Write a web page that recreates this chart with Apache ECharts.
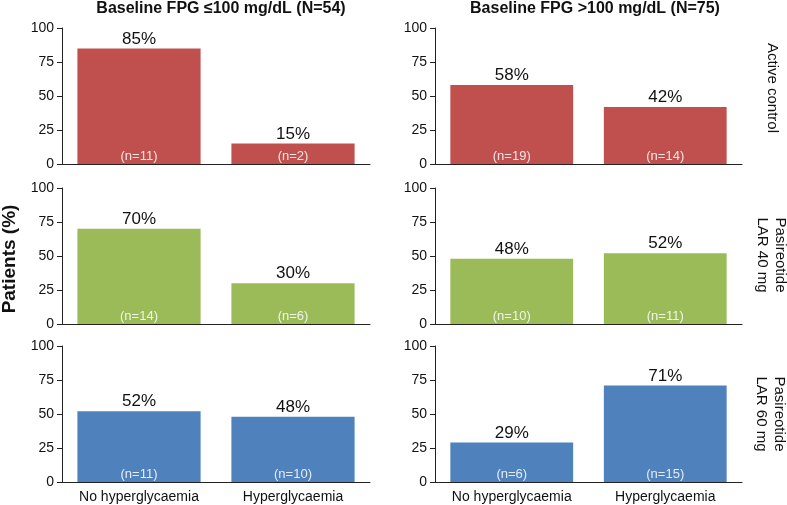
<!DOCTYPE html>
<html>
<head>
<meta charset="utf-8">
<script src="https://cdn.jsdelivr.net/npm/echarts@6/dist/echarts.min.js"></script>
<style>html,body{margin:0;padding:0;background:#fff}#c{width:787px;height:505px}</style>
</head>
<body>
<div id="c"></div>
<script>
var categories = ['No hyperglycaemia', 'Hyperglycaemia'];
var columnTitles = ['Baseline FPG \u2264100 mg/dL (N=54)', 'Baseline FPG >100 mg/dL (N=75)'];
var rowLabels = ['Active control', 'Pasireotide\nLAR 40 mg', 'Pasireotide\nLAR 60 mg'];

var activeLow = [85, 15];
var activeHigh = [58, 42];
var lar40Low = [70, 30];
var lar40High = [48, 52];
var lar60Low = [52, 48];
var lar60High = [29, 71];

var nActiveLow = [11, 2];
var nActiveHigh = [19, 14];
var nLar40Low = [14, 6];
var nLar40High = [10, 11];
var nLar60Low = [11, 10];
var nLar60High = [6, 15];

var rowColors = ['#C0504D', '#9BBB59', '#4F81BD'];

var panels = [
  {row: 0, col: 0, v: activeLow, n: nActiveLow},
  {row: 0, col: 1, v: activeHigh, n: nActiveHigh},
  {row: 1, col: 0, v: lar40Low, n: nLar40Low},
  {row: 1, col: 1, v: lar40High, n: nLar40High},
  {row: 2, col: 0, v: lar60Low, n: nLar60Low},
  {row: 2, col: 1, v: lar60High, n: nLar60High}
];

var FONT = '"Liberation Sans", Arial, sans-serif';
var gridTops = [28, 188, 346];
var gridLefts = [62, 435];
var gridWidths = [308, 307];
var gridH = 136;

var grids = [], xAxes = [], yAxes = [], series = [];
panels.forEach(function (p, i) {
  grids.push({left: gridLefts[p.col], top: gridTops[p.row], width: gridWidths[p.col], height: gridH});
  xAxes.push({
    type: 'category', gridIndex: i, data: categories,
    axisLine: {lineStyle: {color: '#222', width: 1}},
    axisTick: {show: false},
    axisLabel: {show: p.row === 2, interval: 0, color: '#111', fontSize: 14, fontFamily: FONT, margin: 8}
  });
  yAxes.push({
    type: 'value', gridIndex: i, min: 0, max: 100, interval: 25,
    axisLine: {show: true, lineStyle: {color: '#222', width: 1}},
    axisTick: {show: true, length: 5, lineStyle: {color: '#222'}},
    splitLine: {show: false},
    axisLabel: {color: '#111', fontSize: 14, fontFamily: FONT, margin: 8}
  });
  series.push({
    type: 'bar', xAxisIndex: i, yAxisIndex: i, data: p.v,
    barCategoryGap: '20%', barGap: '-100%',
    itemStyle: {color: rowColors[p.row]},
    label: {show: true, position: 'top', distance: 1, formatter: '{c}%', color: '#111', fontSize: 17, fontFamily: FONT},
    silent: true
  });
  series.push({
    type: 'bar', xAxisIndex: i, yAxisIndex: i, data: p.v,
    barCategoryGap: '20%', barGap: '-100%',
    itemStyle: {color: 'rgba(0,0,0,0)'},
    label: {show: true, position: 'insideBottom', distance: 1,
      formatter: (function (arr) { return function (d) { return '(n=' + arr[d.dataIndex] + ')'; }; })(p.n),
      color: 'rgba(255,255,255,0.85)', fontSize: 13, fontFamily: FONT},
    silent: true
  });
});

var graphics = [
  {type: 'text', position: [221, 9], style: {text: columnTitles[0], fill: '#111', font: 'bold 16px ' + FONT, textAlign: 'center', textVerticalAlign: 'middle'}},
  {type: 'text', position: [595, 9], style: {text: columnTitles[1], fill: '#111', font: 'bold 16px ' + FONT, textAlign: 'center', textVerticalAlign: 'middle'}},
  {type: 'text', position: [10, 259], rotation: Math.PI / 2, style: {text: 'Patients (%)', fill: '#111', font: 'bold 19px ' + FONT, textAlign: 'center', textVerticalAlign: 'middle'}},
  {type: 'text', position: [772, 88], rotation: -Math.PI / 2, style: {text: rowLabels[0], fill: '#111', font: '15px ' + FONT, textAlign: 'center', textVerticalAlign: 'middle'}},
  {type: 'text', position: [771, 255], rotation: -Math.PI / 2, style: {text: rowLabels[1], fill: '#111', font: '15px ' + FONT, textAlign: 'center', textVerticalAlign: 'middle', lineHeight: 18}},
  {type: 'text', position: [770, 414], rotation: -Math.PI / 2, style: {text: rowLabels[2], fill: '#111', font: '15px ' + FONT, textAlign: 'center', textVerticalAlign: 'middle', lineHeight: 18}}
];

var chart = echarts.init(document.getElementById('c'), null, {renderer: 'canvas'});
chart.setOption({
  animation: false,
  backgroundColor: '#fff',
  grid: grids,
  xAxis: xAxes,
  yAxis: yAxes,
  series: series,
  graphic: graphics
});
</script>
</body>
</html>
